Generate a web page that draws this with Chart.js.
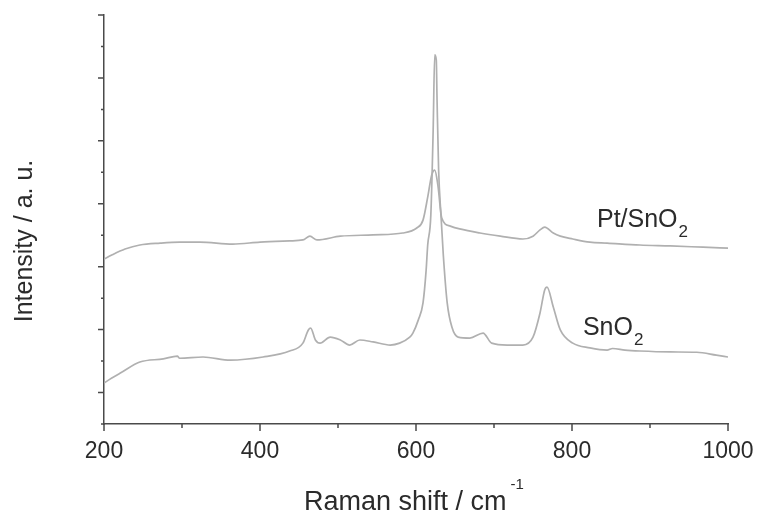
<!DOCTYPE html>
<html>
<head>
<meta charset="utf-8">
<script src="https://cdn.jsdelivr.net/npm/chart.js@4"></script>
<style>
  html, body { margin: 0; padding: 0; background: #fff; }
  #wrap { width: 760px; height: 516px; }
</style>
</head>
<body>
<div id="wrap"><canvas id="ramanChart" width="760" height="516"></canvas></div>
<script>
// Raman shift (cm-1) and intensity (a.u.)
const ptShift = [200, 210, 227, 246, 272, 297, 323, 365, 400, 438, 455, 464, 473, 503, 545, 583, 601, 609, 615, 620, 624, 628, 633, 644, 656, 682, 708, 737, 750, 759, 765, 776, 785, 801, 823, 845, 887, 926, 968, 1000];
const ptIntensity = [524, 537, 556, 569, 575, 578, 578, 572, 578, 582, 585, 597, 585, 597, 601, 607, 623, 648, 721, 790, 807, 760, 655, 629, 620, 607, 597, 588, 597, 617, 626, 607, 597, 588, 578, 575, 569, 566, 562, 559];

const snShift = [200, 210, 221, 246, 276, 294, 297, 327, 362, 404, 438, 455, 462, 465, 471, 477, 490, 503, 515, 528, 545, 567, 579, 592, 596, 603, 609, 613, 615, 619, 622, 624, 626, 627, 629, 632, 635, 640, 646, 654, 669, 686, 697, 717, 737, 750, 759, 765, 768, 776, 785, 801, 823, 845, 852, 868, 887, 926, 960, 985, 1000];
const snIntensity = [130, 146, 162, 197, 207, 216, 209, 213, 203, 213, 232, 257, 299, 305, 267, 257, 276, 267, 251, 267, 261, 251, 257, 276, 289, 331, 385, 489, 569, 664, 934, 1173, 1157, 1030, 807, 664, 537, 385, 308, 276, 273, 289, 257, 251, 251, 276, 353, 426, 435, 372, 299, 257, 242, 235, 240, 235, 232, 229, 228, 219, 213];

const xMin = 200, xMax = 1000, xMajor = 200, xMinor = 100;
const yMin = 0, yMax = 1300, yMinor = 100;

// series labels: [text, subscript, shift, intensity at baseline]
const seriesLabels = [
  ['Pt/SnO', '2', 832, 626],
  ['SnO', '2', 814, 283]
];

const axisColor = '#4a4a4a';
const textColor = '#2b2b2b';
const lineColor = '#b0b0b0';
const fontFamily = 'Arial, "Liberation Sans", Helvetica, sans-serif';

function toPoints(xs, ys) {
  return xs.map((x, i) => ({ x, y: ys[i] }));
}

// draws tick marks, axis titles and curve labels
const decorPlugin = {
  id: 'decor',
  afterDraw(chart) {
    const { ctx, chartArea } = chart;
    const xs = chart.scales.x;
    const ys = chart.scales.y;
    ctx.save();
    ctx.strokeStyle = axisColor;
    ctx.lineWidth = 1.5;
    ctx.beginPath();
    for (let v = xMin; v <= xMax; v += xMinor) {
      const px = xs.getPixelForValue(v);
      const len = v % xMajor === 0 ? 7 : 4;
      ctx.moveTo(px, chartArea.bottom);
      ctx.lineTo(px, chartArea.bottom + len);
    }
    for (let v = yMin; v <= yMax; v += yMinor) {
      const py = ys.getPixelForValue(v);
      const len = (v / yMinor) % 2 === 1 ? 6 : 3;
      ctx.moveTo(chartArea.left, py);
      ctx.lineTo(chartArea.left - len, py);
    }
    ctx.stroke();

    ctx.fillStyle = textColor;
    ctx.textBaseline = 'alphabetic';

    // x title with superscript
    ctx.font = `27px ${fontFamily}`;
    ctx.textAlign = 'left';
    const xTitle = 'Raman shift / cm';
    const tw = ctx.measureText(xTitle).width;
    ctx.font = `15px ${fontFamily}`;
    const sw = ctx.measureText('-1').width;
    const tx = (chartArea.left + chartArea.right) / 2 - (tw + sw) / 2 - 4;
    ctx.font = `27px ${fontFamily}`;
    ctx.fillText(xTitle, tx, 510);
    ctx.font = `15px ${fontFamily}`;
    ctx.fillText('-1', tx + tw + 4, 489);

    // y title
    ctx.save();
    ctx.translate(32, 241);
    ctx.rotate(-Math.PI / 2);
    ctx.font = `25px ${fontFamily}`;
    ctx.textAlign = 'center';
    ctx.fillText('Intensity / a. u.', 0, 0);
    ctx.restore();

    // curve labels
    seriesLabels.forEach(([text, sub, sx, sy]) => {
      const px = xs.getPixelForValue(sx);
      const py = ys.getPixelForValue(sy);
      ctx.font = `25px ${fontFamily}`;
      ctx.textAlign = 'left';
      ctx.fillText(text, px, py);
      const w = ctx.measureText(text).width;
      ctx.font = `17px ${fontFamily}`;
      ctx.fillText(sub, px + w + 1, py + 10);
    });
    ctx.restore();
  }
};

const ctx = document.getElementById('ramanChart').getContext('2d');

new Chart(ctx, {
  type: 'scatter',
  data: {
    datasets: [
      {
        label: 'Pt/SnO2',
        data: toPoints(ptShift, ptIntensity),
        showLine: true,
        borderColor: lineColor,
        borderWidth: 1.7,
        pointRadius: 0,
        cubicInterpolationMode: 'monotone'
      },
      {
        label: 'SnO2',
        data: toPoints(snShift, snIntensity),
        showLine: true,
        borderColor: lineColor,
        borderWidth: 1.7,
        pointRadius: 0,
        cubicInterpolationMode: 'monotone'
      }
    ]
  },
  options: {
    responsive: false,
    animation: false,
    devicePixelRatio: 1,
    layout: { padding: { left: 0, top: 15, right: 32, bottom: 0 } },
    plugins: {
      legend: { display: false },
      tooltip: { enabled: false }
    },
    scales: {
      x: {
        type: 'linear',
        min: xMin,
        max: xMax,
        afterFit: s => { s.height = 92; s.paddingLeft = 0; s.paddingRight = 0; },
        ticks: {
          stepSize: xMajor,
          color: textColor,
          font: { size: 23, family: fontFamily },
          padding: 14,
          maxRotation: 0,
          callback: v => String(v)
        },
        grid: { display: true, drawOnChartArea: false, drawTicks: false },
        border: { display: true, color: axisColor, width: 1.5 }
      },
      y: {
        type: 'linear',
        min: yMin,
        max: yMax,
        afterFit: s => { s.width = 104; s.paddingTop = 0; s.paddingBottom = 0; },
        ticks: { display: false },
        grid: { display: true, drawOnChartArea: false, drawTicks: false },
        border: { display: true, color: axisColor, width: 1.5 }
      }
    }
  },
  plugins: [decorPlugin]
});
</script>
</body>
</html>
